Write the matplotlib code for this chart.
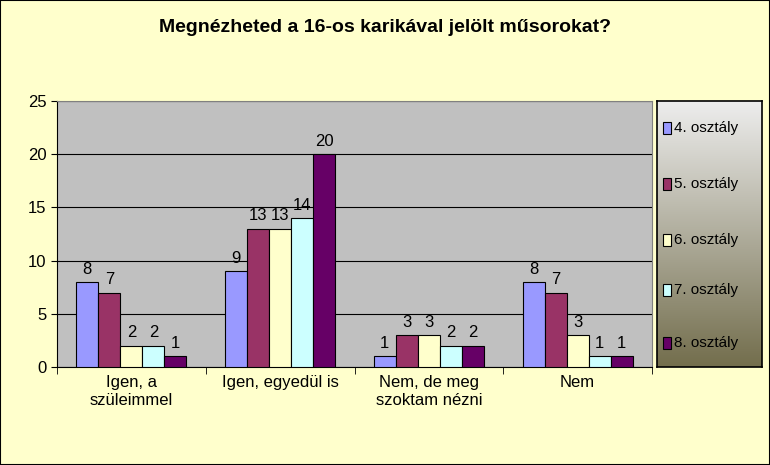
import numpy as np
import matplotlib.pyplot as plt
from matplotlib.patches import Rectangle

plt.rcParams["font.family"] = "Liberation Sans"

categories = ["Igen, a\nszüleimmel", "Igen, egyedül is", "Nem, de meg\nszoktam nézni", "Nem"]
series = ["4. osztály", "5. osztály", "6. osztály", "7. osztály", "8. osztály"]
values = [
    [8, 9, 1, 8],
    [7, 13, 3, 7],
    [2, 13, 3, 3],
    [2, 14, 2, 1],
    [1, 20, 2, 1],
]
colors = ["#9999FF", "#993366", "#FFFFCC", "#CCFFFF", "#660066"]

W, H = 770, 465
fig = plt.figure(figsize=(W / 100, H / 100), dpi=100, facecolor="#FFFFCC")
fig.patches.append(Rectangle((0, 0), 1, 1, transform=fig.transFigure, fill=False,
                             edgecolor="black", lw=1.5))
ax = fig.add_axes([57 / W, 1 - 367 / H, (652 - 57) / W, (367 - 101) / H])
ax.set_facecolor("#C0C0C0")

x = np.arange(len(categories))
bw = 0.148
for i, (name, vals) in enumerate(zip(series, values)):
    pos = x + (i - 2) * bw
    ax.bar(pos, vals, bw, color=colors[i], edgecolor="black", lw=0.8, zorder=3)
    for p, v in zip(pos, vals):
        ax.text(p, v + 0.5, str(v), ha="center", va="bottom", fontsize=12, zorder=4)

ax.set_xlim(-0.5, 3.5)
ax.set_ylim(0, 25)
ax.set_yticks(range(0, 26, 5))
ax.yaxis.grid(True, color="black", lw=0.8, zorder=0)
ax.set_xticks(x)
ax.set_xticklabels(categories, fontsize=12)
ax.set_xticks(np.arange(-0.5, 4, 1), minor=True)
ax.tick_params(axis="x", which="major", length=0, pad=6)
ax.tick_params(axis="x", which="minor", length=5, direction="out")
ax.tick_params(axis="y", labelsize=12, direction="out", length=4)
for s in ax.spines.values():
    s.set_color("#808080")
ax.spines["left"].set_color("black")
ax.spines["bottom"].set_color("black")

fig.text(0.5, 1 - 28 / H, "Megnézheted a 16-os karikával jelölt műsorokat?",
         ha="center", va="center", fontsize=14, fontweight="bold")

# legend box with gradient
lax = fig.add_axes([657 / W, 1 - 367 / H, (762 - 657) / W, (367 - 101) / H])
grad = np.linspace(0, 1, 256).reshape(-1, 1)
top = np.array([0.93, 0.93, 0.93])
bot = np.array([0.45, 0.43, 0.30])
img = top * (1 - grad[..., None]) + bot * grad[..., None]
img = np.repeat(img, 2, axis=1)
lax.imshow(img, aspect="auto", extent=[0, 1, 0, 1])
lax.set_xlim(0, 1)
lax.set_ylim(0, 1)
lax.set_xticks([])
lax.set_yticks([])
for s in lax.spines.values():
    s.set_color("black")
    s.set_linewidth(1.2)
ys = [1 - (128 - 101) / 266, 1 - (184 - 101) / 266, 1 - (240 - 101) / 266,
      1 - (290 - 101) / 266, 1 - (343 - 101) / 266]
for name, c, yy in zip(series, colors, ys):
    lax.add_patch(Rectangle((0.06, yy - 0.022), 0.07, 0.044, facecolor=c,
                            edgecolor="black", lw=0.8))
    lax.text(0.16, yy, name, va="center", ha="left", fontsize=11)

fig.savefig("out.png", dpi=100, facecolor=fig.get_facecolor())
